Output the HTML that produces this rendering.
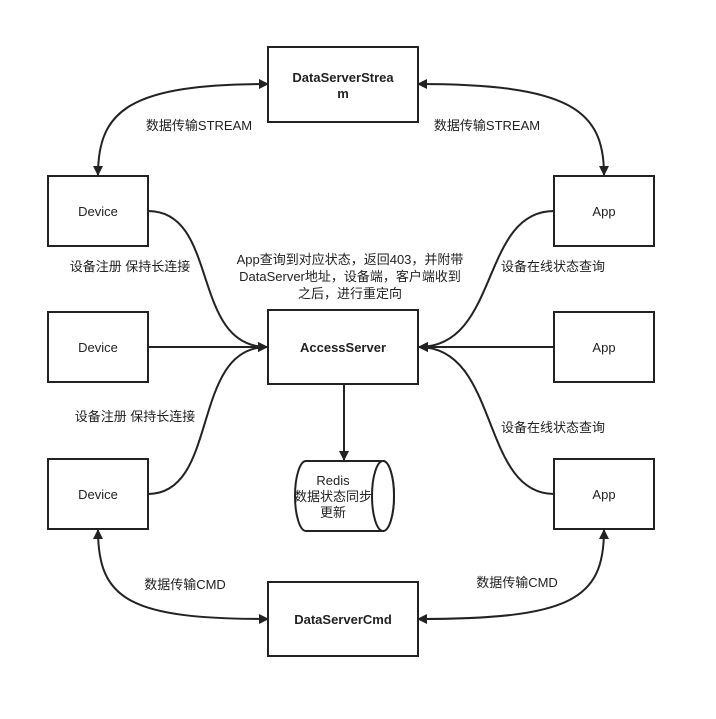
<!DOCTYPE html>
<html><head><meta charset="utf-8"><style>
body{margin:0;background:#fff;}
svg{display:block;font-family:"Liberation Sans","Noto Sans CJK SC",sans-serif;}
</style></head><body>
<svg width="716" height="719" viewBox="0 0 716 719" xmlns="http://www.w3.org/2000/svg">
<defs>
<marker id="a" viewBox="0 0 10 10" refX="9" refY="5" markerWidth="10" markerHeight="10" markerUnits="userSpaceOnUse" orient="auto-start-reverse">
<path d="M0,0 L10,5 L0,10 z" fill="#222"/></marker>
</defs>
<g fill="#fff" stroke="#222" stroke-width="2">
<rect x="268" y="47" width="150" height="75"/>
<rect x="48" y="176" width="100" height="70"/>
<rect x="554" y="176" width="100" height="70"/>
<rect x="48" y="312" width="100" height="70"/>
<rect x="268" y="310" width="150" height="74"/>
<rect x="554" y="312" width="100" height="70"/>
<rect x="48" y="459" width="100" height="70"/>
<rect x="554" y="459" width="100" height="70"/>
<rect x="268" y="582" width="150" height="74"/>
<path d="M306,461 L383,461 A11,35 0 0 1 383,531 L306,531 A11,35 0 0 1 306,461 z"/>
<ellipse cx="383" cy="496" rx="11" ry="35"/>
</g>
<g fill="none" stroke="#222" stroke-width="2">
<path d="M268,84 C130,84 98,110 98,175" marker-start="url(#a)" marker-end="url(#a)"/>
<path d="M418,84 C570,84 604,110 604,175" marker-start="url(#a)" marker-end="url(#a)"/>
<path d="M268,619 C130,619 98,600 98,530" marker-start="url(#a)" marker-end="url(#a)"/>
<path d="M418,619 C570,619 604,600 604,530" marker-start="url(#a)" marker-end="url(#a)"/>
<path d="M148,211 C220,211 190,347 267,347" marker-end="url(#a)"/>
<path d="M148,494 C220,494 190,347 267,347" marker-end="url(#a)"/>
<path d="M148,347 L267,347" marker-end="url(#a)"/>
<path d="M554,211 C480,211 500,347 419,347" marker-end="url(#a)"/>
<path d="M554,494 C480,494 500,347 419,347" marker-end="url(#a)"/>
<path d="M554,347 L419,347" marker-end="url(#a)"/>
<path d="M344,384 L344,460" marker-end="url(#a)"/>
</g>
<g font-size="13" fill="#222" text-anchor="middle">
<text x="343" y="82" font-weight="bold">DataServerStrea</text>
<text x="343" y="98" font-weight="bold">m</text>
<text x="343" y="352" font-weight="bold">AccessServer</text>
<text x="343" y="624" font-weight="bold">DataServerCmd</text>
<text x="98" y="216">Device</text>
<text x="98" y="352">Device</text>
<text x="98" y="499">Device</text>
<text x="604" y="216">App</text>
<text x="604" y="352">App</text>
<text x="604" y="499">App</text>
<text x="333" y="485">Redis</text>
<text x="333" y="501">数据状态同步</text>
<text x="333" y="517">更新</text>
<text x="199" y="130">数据传输STREAM</text>
<text x="487" y="130">数据传输STREAM</text>
<text x="130" y="271">设备注册 保持长连接</text>
<text x="135" y="421">设备注册 保持长连接</text>
<text x="553" y="271">设备在线状态查询</text>
<text x="553" y="432">设备在线状态查询</text>
<text x="185" y="589">数据传输CMD</text>
<text x="517" y="587">数据传输CMD</text>
<text x="350" y="264">App查询到对应状态，返回403，并附带</text>
<text x="350" y="281">DataServer地址，设备端，客户端收到</text>
<text x="350" y="298">之后，进行重定向</text>
</g>
</svg>
</body></html>
